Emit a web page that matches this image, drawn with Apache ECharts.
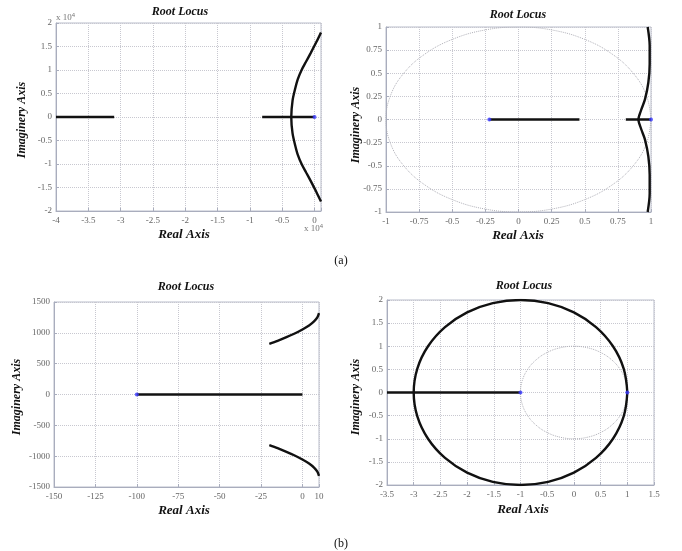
<!DOCTYPE html>
<html><head><meta charset="utf-8">
<script src="https://cdn.jsdelivr.net/npm/echarts@6/dist/echarts.min.js"></script>
<style>html,body{margin:0;padding:0;background:#fff}#c{width:682px;height:551px}</style>
</head><body><div id="c"></div>
<script>
// ---- (a) left : values in units of 10^4 ----
var aL_branch1 = [[-4, 0], [-3.1, 0]];
var aL_branch2 = [[-0.81, 0], [0, 0]];
var aL_curve = [[0.1, 1.8], [0.03, 1.6], [-0.06, 1.36], [-0.13, 1.18], [-0.2, 1.0], [-0.26, 0.8], [-0.3, 0.6], [-0.34, 0.35], [-0.36, 0],
                [-0.34, -0.35], [-0.3, -0.6], [-0.26, -0.8], [-0.2, -1.0], [-0.13, -1.18], [-0.06, -1.36], [0.03, -1.6], [0.1, -1.8]];
var aL_poles = [[0, 0]];
// ---- (a) right ----
var aR_branch1 = [[-0.22, 0], [0.46, 0]];
var aR_branch2 = [[0.81, 0], [1, 0]];
var aR_curve = [[0.975, 1], [0.99, 0.8], [0.99, 0.6], [0.98, 0.4], [0.955, 0.22], [0.925, 0.1], [0.905, 0],
                [0.925, -0.1], [0.955, -0.22], [0.98, -0.4], [0.99, -0.6], [0.99, -0.8], [0.975, -1]];
var aR_poles = [[-0.22, 0], [1, 0]];
// unit circle
var unitCircle = [[1, 0], [0.966, 0.259], [0.866, 0.5], [0.707, 0.707], [0.5, 0.866], [0.259, 0.966], [0, 1],
                  [-0.259, 0.966], [-0.5, 0.866], [-0.707, 0.707], [-0.866, 0.5], [-0.966, 0.259], [-1, 0],
                  [-0.966, -0.259], [-0.866, -0.5], [-0.707, -0.707], [-0.5, -0.866], [-0.259, -0.966], [0, -1],
                  [0.259, -0.966], [0.5, -0.866], [0.707, -0.707], [0.866, -0.5], [0.966, -0.259], [1, 0]];
// ---- (b) left ----
var bL_branch = [[-100, 0], [0, 0]];
var bL_upper = [[-20, 820], [-15, 870], [-10, 925], [-5, 985], [0, 1055], [4, 1120], [7, 1185], [9, 1250], [10, 1320]];
var bL_lower = [[-20, -820], [-15, -870], [-10, -925], [-5, -985], [0, -1055], [4, -1120], [7, -1185], [9, -1250], [10, -1320]];
var bL_poles = [[-100, 0]];
// ---- (b) right ----
var bR_branch = [[-3.5, 0], [-1, 0]];
var bR_circle = [[1, 0], [0.932, 0.518], [0.732, 1.0], [0.414, 1.414], [0, 1.732], [-0.482, 1.932], [-1, 2],
                 [-1.518, 1.932], [-2, 1.732], [-2.414, 1.414], [-2.732, 1.0], [-2.932, 0.518], [-3, 0],
                 [-2.932, -0.518], [-2.732, -1.0], [-2.414, -1.414], [-2, -1.732], [-1.518, -1.932], [-1, -2],
                 [-0.482, -1.932], [0, -1.732], [0.414, -1.414], [0.732, -1.0], [0.932, -0.518], [1, 0]];
var bR_poles = [[-1, 0], [1, 0]];

var titles = ['Root Locus', 'Root Locus', 'Root Locus', 'Root Locus'];
var xName = 'Real Axis', yName = 'Imaginery Axis';

var SERIF = '"Liberation Serif","DejaVu Serif",serif';
var grids = [
  {left: 56, top: 23, width: 265, height: 188},
  {left: 386, top: 27, width: 265, height: 185},
  {left: 54, top: 302, width: 265, height: 185},
  {left: 387, top: 300, width: 267, height: 185}
];
grids.forEach(function (g) { g.show = true; g.borderColor = '#b8bccb'; g.borderWidth = 1; g.backgroundColor = '#fff'; });

function step(v, s) { return Math.abs(v / s - Math.round(v / s)) < 1e-6; }
function mkAxis(idx, min, max, itv, isX) {
  return {
    type: 'value', gridIndex: idx, min: min, max: max, interval: itv,
    axisLine: {show: true, onZero: false, lineStyle: {color: '#a9adbd', width: 1}},
    axisTick: {show: true, inside: true, length: 3, lineStyle: {color: '#a9adbd'}},
    splitLine: {show: true, lineStyle: {color: '#c8c8d0', type: 'dotted', width: 1}},
    axisLabel: {
      color: '#666', fontFamily: SERIF, fontSize: 9, margin: isX ? 5 : 4,
      formatter: function (v) { return (step(v - min, itv) || (isX && idx === 2)) ? String(+v.toFixed(4)) : ''; }
    }
  };
}
var xAxes = [mkAxis(0, -4, 0.1, 0.5, true), mkAxis(1, -1, 1, 0.25, true), mkAxis(2, -150, 10, 25, true), mkAxis(3, -3.5, 1.5, 0.5, true)];
var yAxes = [mkAxis(0, -2, 2, 0.5, false), mkAxis(1, -1, 1, 0.25, false), mkAxis(2, -1500, 1500, 500, false), mkAxis(3, -2, 2, 0.5, false)];

function line(idx, data, extra) {
  var s = {type: 'line', xAxisIndex: idx, yAxisIndex: idx, data: data, showSymbol: false, symbol: 'none',
    lineStyle: {color: '#111', width: 2.4}, animation: false, silent: true, z: 3};
  if (extra) for (var k in extra) s[k] = extra[k];
  return s;
}
function dotted(idx, data) {
  return line(idx, data, {smooth: 0.4, lineStyle: {color: '#b0b0b8', width: 1, type: 'dotted'}, z: 2});
}
function poles(idx, data) {
  return {type: 'scatter', xAxisIndex: idx, yAxisIndex: idx, data: data, symbolSize: 4,
    itemStyle: {color: '#3a3aff'}, animation: false, silent: true, z: 4};
}
var series = [
  line(0, aL_branch1), line(0, aL_branch2), line(0, aL_curve, {smooth: 0.3}), poles(0, aL_poles),
  dotted(1, unitCircle), line(1, aR_branch1), line(1, aR_branch2), line(1, aR_curve, {smooth: 0.3}), poles(1, aR_poles),
  line(2, bL_branch), line(2, bL_upper, {smooth: 0.3}), line(2, bL_lower, {smooth: 0.3}), poles(2, bL_poles),
  dotted(3, unitCircle), line(3, bR_branch), line(3, bR_circle, {smooth: 0.4}), poles(3, bR_poles)
];

function txt(x, y, t, opt) {
  var st = {text: t, x: x, y: y, fill: '#111', font: 'italic bold 12px ' + SERIF, textAlign: 'center', textVerticalAlign: 'middle'};
  if (opt) for (var k in opt) st[k] = opt[k];
  return {type: 'text', style: st, z: 10};
}
function ytxt(x, y, t) {
  return {type: 'text', x: x, y: y, rotation: Math.PI / 2, z: 10,
    style: {text: t, x: 0, y: 0, fill: '#111', font: 'italic bold 12px ' + SERIF, textAlign: 'center', textVerticalAlign: 'middle'}};
}
var graphics = [
  txt(180, 12, titles[0]), txt(518, 15, titles[1]), txt(186, 287, titles[2]), txt(524, 286, titles[3]),
  txt(184, 235, xName, {font: 'italic bold 13px ' + SERIF}), txt(518, 236, xName, {font: 'italic bold 13px ' + SERIF}),
  txt(184, 511, xName, {font: 'italic bold 13px ' + SERIF}), txt(523, 510, xName, {font: 'italic bold 13px ' + SERIF}),
  ytxt(22, 120, yName), ytxt(356, 125, yName), ytxt(17, 397, yName), ytxt(356, 397, yName),
  {type: 'text', z: 10, style: {text: 'x 10{s|4}', x: 56, y: 18, textVerticalAlign: 'middle', fill: '#777', font: '9px ' + SERIF,
    rich: {s: {fontSize: 6, verticalAlign: 'top', fill: '#777', padding: [0, 0, 6, 0]}}}},
  {type: 'text', z: 10, style: {text: 'x 10{s|4}', x: 304, y: 229, textVerticalAlign: 'middle', fill: '#777', font: '9px ' + SERIF,
    rich: {s: {fontSize: 6, verticalAlign: 'top', fill: '#777', padding: [0, 0, 6, 0]}}}},
  txt(341, 261, '(a)', {font: '12px ' + SERIF}),
  txt(341, 544, '(b)', {font: '12px ' + SERIF})
];

var chart = echarts.init(document.getElementById('c'), null, {renderer: 'canvas'});
chart.setOption({
  animation: false,
  grid: grids, xAxis: xAxes, yAxis: yAxes, series: series, graphic: graphics
});
</script></body></html>
